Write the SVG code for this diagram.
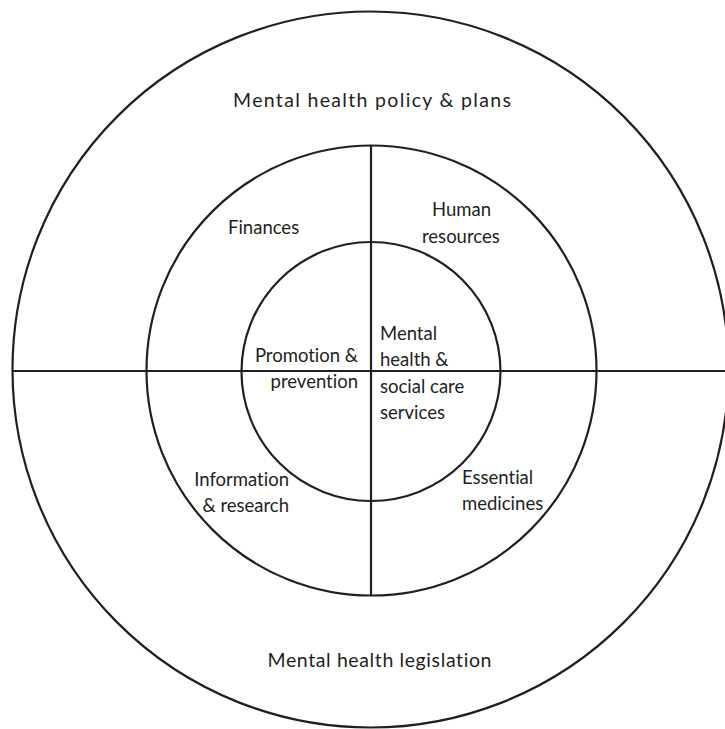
<svg xmlns="http://www.w3.org/2000/svg" width="725" height="729" viewBox="0 0 725 729">
<style>
.ring{fill:none;stroke:#231f20;stroke-width:2.2}
.ln{stroke:#231f20;stroke-width:2.2;fill:none}
text{font-family:Lato,"Open Sans","Liberation Sans",sans-serif;font-size:18.5px;fill:#231f20;font-variant-ligatures:none}
.big{font-size:19.5px}
</style>
<rect width="725" height="729" fill="#fff"/>
<g id="outer"><circle class="ring" cx="370.5" cy="369.5" r="358"/>
<text class="big" x="372" y="107" text-anchor="middle" textLength="278" lengthAdjust="spacing">Mental health policy &amp; plans</text>
<text class="big" x="379.5" y="667" text-anchor="middle" textLength="224" lengthAdjust="spacing">Mental health legislation</text></g>
<g id="middle"><circle class="ring" cx="371.5" cy="370.5" r="225"/>
<text x="228" y="234">Finances</text>
<text x="432" y="216">Human</text>
<text x="422" y="243">resources</text>
<text x="289" y="486" text-anchor="end">Information</text>
<text x="289" y="512" text-anchor="end">&amp; research</text>
<text x="462" y="484">Essential</text>
<text x="462" y="510">medicines</text></g>
<g id="inner"><circle class="ring" cx="371" cy="371.5" r="129.5"/>
<text x="358" y="362" text-anchor="end">Promotion &amp;</text>
<text x="358" y="388" text-anchor="end">prevention</text>
<text x="380" y="340">Mental</text>
<text x="380" y="366">health &amp;</text>
<text x="380" y="393">social care</text>
<text x="380" y="419">services</text></g>
<g id="connectors">
<line class="ln" x1="12" y1="371" x2="725" y2="371"/>
<line class="ln" x1="371" y1="145.5" x2="371" y2="595.5"/>
</g>
</svg>
